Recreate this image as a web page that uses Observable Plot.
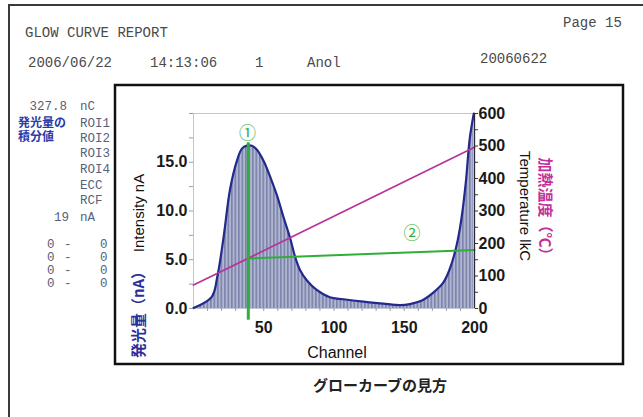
<!DOCTYPE html>
<html><head><meta charset="utf-8">
<script src="https://cdn.jsdelivr.net/npm/d3@7"></script>
<script src="https://cdn.jsdelivr.net/npm/@observablehq/plot@0.6"></script>
<style>html,body{margin:0;padding:0;background:#fff;overflow:hidden}svg{display:block}</style>
</head><body><div id="chart"></div>
<script>
// ---- data ----
const channels  = [0, 13, 17, 21.5, 26, 31, 34.5, 38, 41.6, 45, 50, 54.6, 59.4, 64, 68.8, 72.3, 76, 80.6, 87.7, 97, 106.6, 121, 135, 147, 154, 163, 170, 177.5, 182, 187, 190.6, 194, 196.5, 199.5];
const intensity = [0.05, 1.2, 3.3, 7.4, 12.2, 15.2, 16.4, 16.7, 16.7, 16.3, 15.1, 13.5, 11.6, 9.4, 7.2, 5.3, 3.9, 2.9, 1.9, 1.15, 0.95, 0.7, 0.5, 0.35, 0.45, 0.85, 1.55, 2.6, 3.9, 6.3, 9.1, 13.2, 17.3, 20];
const tempChannels = [0, 200];
const temperature  = [72, 496];
const marker1Channel = 39;            // vertical green line (peak)
const marker1Range   = [-1.2, 17.0];  // nA
const marker2Channels = [39, 200];
const marker2Temps    = [154, 180];   // °C
const markerLabels = ["①", "②"];
const markerLabelCh = [38.4, 155.5];
const markerLabelNA = [17.95, 7.7];
const leftTicks  = [0, 5, 10, 15];
const rightTicks = [0, 100, 200, 300, 400, 500, 600];
const xTicks     = [50, 100, 150, 200];

const headerTexts = [
  {t: "GLOW CURVE REPORT", x: 25, y: 37},
  {t: "Page 15", x: 563, y: 27},
  {t: "2006/06/22", x: 28, y: 67},
  {t: "14:13:06", x: 150, y: 67},
  {t: "1", x: 255, y: 67},
  {t: "Anol", x: 307, y: 67},
  {t: "20060622", x: 480, y: 63}
];
const sideTexts = [
  {t: "327.8", x: 67, y: 110, a: "end"}, {t: "nC", x: 80, y: 110},
  {t: "ROI1", x: 80, y: 127}, {t: "ROI2", x: 80, y: 142}, {t: "ROI3", x: 80, y: 157},
  {t: "ROI4", x: 80, y: 173}, {t: "ECC", x: 80, y: 189}, {t: "RCF", x: 80, y: 204},
  {t: "19", x: 69, y: 221, a: "end"}, {t: "nA", x: 80, y: 221},
  {t: "0", x: 47, y: 248}, {t: "-", x: 64, y: 248}, {t: "0", x: 100, y: 248},
  {t: "0", x: 47, y: 261}, {t: "-", x: 64, y: 261}, {t: "0", x: 100, y: 261},
  {t: "0", x: 47, y: 274}, {t: "-", x: 64, y: 274}, {t: "0", x: 100, y: 274},
  {t: "0", x: 47, y: 287}, {t: "-", x: 64, y: 287}, {t: "0", x: 100, y: 287}
];

// ---- tables ----
const curve = channels.map((c, i) => ({ch: c, v: intensity[i]}));
const temp = tempChannels.map((c, i) => ({ch: c, t: temperature[i]}));
const marker2 = marker2Channels.map((c, i) => ({ch: c, t: marker2Temps[i]}));
const labels = markerLabels.map((s, i) => ({s, ch: markerLabelCh[i], v: markerLabelNA[i]}));
const T = 30; // 600 °C on right axis ↔ 20 nA on left axis

const W = 643, H = 417;
const sans = "Liberation Sans, Arial, sans-serif";
const plot = Plot.plot({
  width: W, height: H,
  marginLeft: 193, marginRight: W - 474, marginTop: 113, marginBottom: H - 308,
  x: {domain: [0, 200]},
  y: {domain: [0, 20]},
  style: {background: "#fff", fontFamily: sans, overflow: "visible"},
  marks: [
    Plot.frame({stroke: "#c2c4d2"}),
    Plot.areaY(curve, {x: "ch", y: "v", fill: "url(#hatch)", curve: "catmull-rom"}),
    Plot.lineY(curve, {x: "ch", y: "v", stroke: "#242a8c", strokeWidth: 2.2, curve: "catmull-rom"}),
    Plot.line(temp, {x: "ch", y: d => d.t / T, stroke: "#b8329c", strokeWidth: 1.7}),
    Plot.ruleX([marker1Channel], {y1: marker1Range[0], y2: marker1Range[1], stroke: "#2fae3a", strokeWidth: 3}),
    Plot.line(marker2, {x: "ch", y: d => d.t / T, stroke: "#2fae3a", strokeWidth: 2}),
    Plot.ruleX([200], {stroke: "#2a2a3a", strokeWidth: 1.3}),
    Plot.axisY(d3.range(0, 20.01, 2.5), {anchor: "left", tickSize: 4, stroke: "#9a9cb0", tickFormat: () => "", label: null}),
    Plot.axisY(leftTicks, {anchor: "left", tickSize: 0, tickPadding: 6, tickFormat: d => d.toFixed(1), fontSize: 16, fontWeight: "bold", fill: "#1a1a1a", label: null}),
    Plot.axisY(d3.range(0, 601, 50).map(d => d / T), {anchor: "right", tickSize: 3, stroke: "#333", tickFormat: () => "", label: null}),
    Plot.axisY(rightTicks.map(d => d / T), {anchor: "right", tickSize: 0, tickPadding: 4, tickFormat: d => Math.round(d * T), fontSize: 16, fontWeight: "bold", fill: "#1a1a1a", label: null}),
    Plot.axisX(d3.range(10, 200, 10), {tickSize: 3, stroke: "#9a9cb0", tickFormat: () => "", label: null}),
    Plot.axisX(xTicks, {tickSize: 0, tickPadding: 13, fontSize: 16, fontWeight: "bold", fill: "#1a1a1a", label: null}),
    Plot.text(labels, {x: "ch", y: "v", text: "s", fill: "#2fae3a", fontSize: 17, fontFamily: "Noto Sans CJK JP"})
  ]
});

const svg = d3.select(plot);
svg.insert("defs", ":first-child").html(
  '<pattern id="hatch" width="3.5" height="4" patternUnits="userSpaceOnUse">' +
  '<rect width="3.5" height="4" fill="#b0b5d0"/><rect width="1.6" height="4" fill="#7b83ac"/></pattern>');

// page border and chart box
svg.append("path").attr("d", "M9,417V5H643").attr("fill", "none").attr("stroke", "#3a3a3a").attr("stroke-width", 2);
svg.append("rect").attr("x", 115).attr("y", 85).attr("width", 508).attr("height", 279)
  .attr("fill", "none").attr("stroke", "#111").attr("stroke-width", 2.5);

// header (mono)
svg.append("g").selectAll("text").data(headerTexts).join("text")
  .attr("x", d => d.x).attr("y", d => d.y).attr("text-anchor", "start").text(d => d.t)
  .attr("font-family", "Liberation Mono, Courier New, monospace").attr("font-size", 14).attr("fill", "#4a4a4a");
svg.append("g").selectAll("text").data(sideTexts).join("text")
  .attr("x", d => d.x).attr("y", d => d.y).attr("text-anchor", d => d.a || "start").text(d => d.t)
  .attr("font-family", "Liberation Mono, Courier New, monospace").attr("font-size", 12.5).attr("fill", "#56627c");
const jp = "Noto Sans CJK JP";
svg.append("text").attr("x", 18).attr("y", 127).attr("text-anchor", "start").text("発光量の").attr("font-family", jp).attr("font-weight", "bold").attr("font-size", 12).attr("fill", "#2a3aa8");
svg.append("text").attr("x", 18).attr("y", 141).attr("text-anchor", "start").text("積分値").attr("font-family", jp).attr("font-weight", "bold").attr("font-size", 12).attr("fill", "#2a3aa8");

// axis titles
svg.append("text").attr("transform", "translate(144,213) rotate(-90)").attr("text-anchor", "middle")
  .text("Intensity nA").attr("font-family", sans).attr("font-size", 15).attr("fill", "#111");
svg.append("text").attr("transform", "translate(144,311) rotate(-90)").attr("text-anchor", "middle")
  .text("発光量（nA）").attr("font-family", jp).attr("font-weight", "bold").attr("font-size", 15).attr("fill", "#2b2f9a");
svg.append("text").attr("transform", "translate(520,206) rotate(90)").attr("text-anchor", "middle")
  .text("Temperature lkC").attr("font-family", sans).attr("font-size", 15).attr("fill", "#111");
svg.append("text").attr("transform", "translate(540,210) rotate(90)").attr("text-anchor", "middle")
  .text("加熱温度（℃）").attr("font-family", jp).attr("font-weight", "bold").attr("font-size", 15).attr("fill", "#c0309a");
svg.append("text").attr("x", 337).attr("y", 358).attr("text-anchor", "middle")
  .text("Channel").attr("font-family", sans).attr("font-size", 16).attr("fill", "#111");
svg.append("text").attr("x", 380).attr("y", 391).attr("text-anchor", "middle")
  .text("グローカーブの見方").attr("font-family", jp).attr("font-weight", "bold").attr("font-size", 15).attr("fill", "#222");

document.getElementById("chart").appendChild(plot);
</script>
</body></html>
